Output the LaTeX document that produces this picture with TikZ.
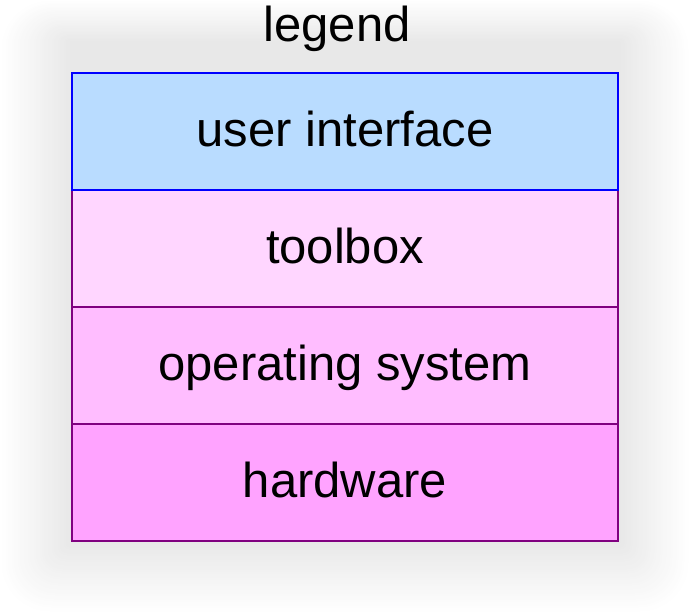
\documentclass[tikz,border=0pt]{standalone}
\usepackage{fontspec}
\setmainfont{Liberation Sans}
\definecolor{uifill}{RGB}{185,220,255}
\definecolor{tbfill}{RGB}{255,214,255}
\definecolor{osfill}{RGB}{255,189,255}
\definecolor{hwfill}{RGB}{255,163,255}
\definecolor{layerline}{RGB}{128,0,128}
\definecolor{uiline}{RGB}{0,0,255}
\tikzset{
  layer/.style={rectangle, draw=layerline, line width=2pt, minimum width=546pt,
    minimum height=117pt, inner sep=0pt, text height=30.4pt, text depth=0pt,
    font=\fontsize{49}{58}\selectfont},
  titletext/.style={inner sep=0pt, anchor=base, font=\fontsize{49}{58}\selectfont}
}
\begin{document}
\begin{tikzpicture}[x=1pt,y=1pt]
\useasboundingbox (0,0) rectangle (690,613);
\fill[white] (0,0) rectangle (690,613);
\foreach \i in {0,...,35} {
  \pgfmathsetmacro\d{2*\i}
  \pgfmathsetmacro\t{0.6*\d}
  \pgfmathsetmacro\k{9*\i/35}
  \pgfmathsetmacro\r{50-0.7*\d}
  \fill[black!\k, rounded corners=\r pt] (\d,\d) rectangle (690-\d,613-\t);
}
\node[titletext] (title) at (337,571.3) {legend};
\node[layer, fill=hwfill] (hw) at (345,130.5) {hardware};
\node[layer, fill=osfill] (os) at (345,247.5) {operating system};
\node[layer, fill=tbfill] (tb) at (345,364.5) {toolbox};
\node[layer, fill=uifill, draw=uiline] (ui) at (345,481.5) {user interface};
\end{tikzpicture}
\end{document}
